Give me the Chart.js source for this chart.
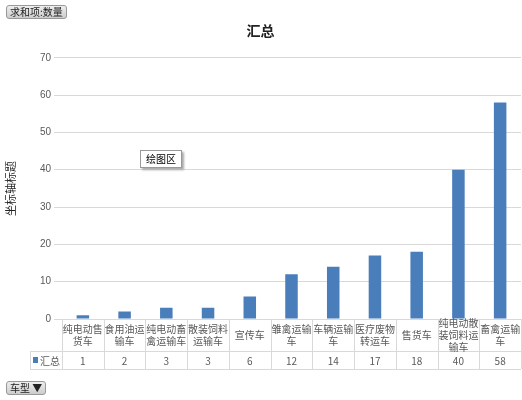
<!DOCTYPE html>
<html><head><meta charset="utf-8">
<script src="https://cdn.jsdelivr.net/npm/chart.js@4/dist/chart.umd.min.js"></script>
<style>
body{margin:0;background:#fff;font-family:"Noto Sans CJK SC",sans-serif;}
#wrap{position:relative;width:522px;height:400px;}
.btn{position:absolute;font-size:10px;background:linear-gradient(#eee,#ccc);border:1px solid #999;border-radius:3px;padding:0 3px;line-height:12px;color:#222;}
#tip{position:absolute;left:140px;top:150px;font-size:10px;background:#fff;border:1px solid #999;box-shadow:2px 2px 2px #aaa;padding:1px 5px;line-height:14px;}
</style></head><body>
<div id="wrap">
<canvas id="c" width="522" height="400"></canvas>
<div class="btn" style="left:6px;top:5px">求和项:数量</div>
<div class="btn" style="left:6px;top:381px">车型 &#9660;</div>
<div id="tip">绘图区</div>
</div>
<script>
const categories=[["纯电动售","货车"],["食用油运","输车"],["纯电动畜","禽运输车"],["散装饲料","运输车"],["宣传车"],["雏禽运输","车"],["车辆运输","车"],["医疗废物","转运车"],["售货车"],["纯电动散","装饲料运","输车"],["畜禽运输","车"]];
const values=[1,2,3,3,6,12,14,17,18,40,58];
const seriesName="汇总";
const tablePlugin={id:'tbl',afterDraw(ch){
 const c=ch.ctx,a=ch.chartArea,x=ch.scales.x;
 const n=categories.length,w=(a.right-a.left)/n;
 const top=a.bottom,mid=a.bottom+32,bot=a.bottom+50;
 c.save();c.strokeStyle='#d9d9d9';c.lineWidth=1;
 c.beginPath();
 c.moveTo(a.left,mid+0.5);c.lineTo(a.right,mid+0.5);
 c.moveTo(30,mid+0.5);c.lineTo(a.left,mid+0.5);
 c.moveTo(30,bot+0.5);c.lineTo(a.right,bot+0.5);
 c.moveTo(30.5,mid);c.lineTo(30.5,bot);
 for(let i=0;i<=n;i++){const xx=Math.round(a.left+i*w)+0.5;c.moveTo(xx,top);c.lineTo(xx,bot);}
 c.stroke();
 c.fillStyle='#595959';c.font='10px "Noto Sans CJK SC"';c.textAlign='center';c.textBaseline='middle';
 for(let i=0;i<n;i++){const cx=x.getPixelForValue(i);const L=categories[i];
  const y0=top+16-(L.length-1)*6;
  L.forEach((t,j)=>c.fillText(t,cx,y0+j*12));
  c.fillText(String(values[i]),cx,(mid+bot)/2+1);}
 c.fillStyle='#4a7ebb';c.fillRect(33,(mid+bot)/2-3,5,6);
 c.fillStyle='#595959';c.textAlign='left';c.fillText(seriesName,40,(mid+bot)/2+1);
 c.restore();}};
new Chart(document.getElementById('c'),{type:'bar',
 data:{labels:categories.map(l=>l.join('')),datasets:[{label:seriesName,data:values,backgroundColor:'#4a7ebb',barPercentage:0.3,categoryPercentage:1}]},
 options:{responsive:false,animation:false,
  layout:{padding:{left:0,right:1,top:0,bottom:73}},
  plugins:{legend:{display:false},tooltip:{enabled:false},
   title:{display:true,text:'汇总',font:{size:14,weight:'bold',family:'"Noto Sans CJK SC"'},color:'#222',padding:{top:22,bottom:19}}},
  scales:{
   x:{ticks:{display:false},grid:{display:false},border:{color:'#d9d9d9'}},
   y:{min:0,max:70,ticks:{stepSize:10,color:'#595959',font:{size:10}},grid:{color:'#d9d9d9'},border:{display:false},
     title:{display:true,text:'坐标轴标题',color:'#222',font:{size:11,family:'"Noto Sans CJK SC"'}},
     afterFit(s){s.width=62;}}}},
 plugins:[tablePlugin]});
</script></body></html>
